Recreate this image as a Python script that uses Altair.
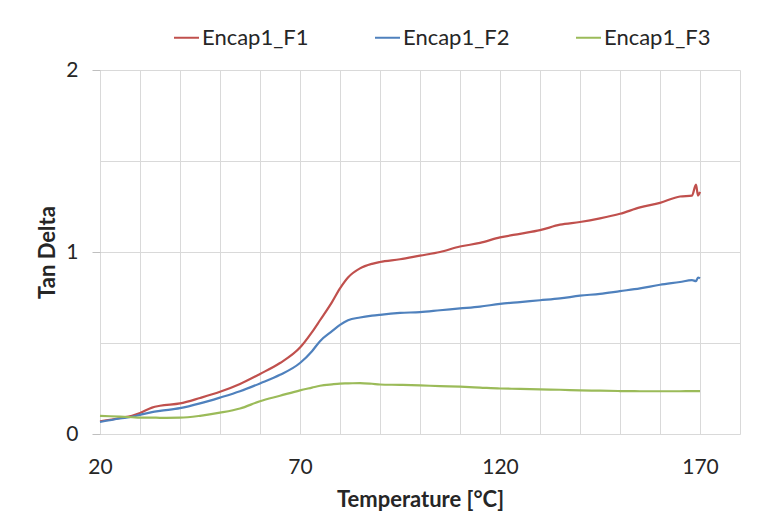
import altair as alt
import pandas as pd

# ---- data ----
temps = [20, 25, 28, 30, 33, 35, 40, 45, 50, 55, 60, 65, 70, 73, 75, 78, 80, 82, 85, 88,
         90, 95, 100, 105, 110, 115, 120, 125, 130, 135, 140, 145, 150, 155, 160, 165,
         168, 169, 169.5, 170]
f1 = [0.07, 0.088, 0.10, 0.115, 0.145, 0.155, 0.168, 0.198, 0.232, 0.275, 0.33, 0.39,
      0.475, 0.56, 0.625, 0.725, 0.80, 0.86, 0.91, 0.935, 0.945, 0.96, 0.98, 1.0, 1.03,
      1.05, 1.08, 1.10, 1.12, 1.15, 1.165, 1.185, 1.21, 1.245, 1.27, 1.305, 1.31, 1.37,
      1.31, 1.33]
f2 = [0.066, 0.085, 0.095, 0.105, 0.12, 0.127, 0.142, 0.168, 0.2, 0.235, 0.278, 0.325,
      0.39, 0.455, 0.51, 0.565, 0.60, 0.625, 0.64, 0.65, 0.655, 0.665, 0.67, 0.68, 0.69,
      0.70, 0.715, 0.725, 0.735, 0.745, 0.76, 0.77, 0.785, 0.80, 0.82, 0.835, 0.845,
      0.84, 0.86, 0.855]
f3 = [0.10, 0.095, 0.092, 0.09, 0.09, 0.089, 0.09, 0.10, 0.117, 0.14, 0.18, 0.21, 0.24,
      0.255, 0.265, 0.273, 0.277, 0.278, 0.28, 0.276, 0.272, 0.27, 0.267, 0.263, 0.26,
      0.255, 0.25, 0.248, 0.245, 0.243, 0.24, 0.238, 0.236, 0.235, 0.235, 0.235, 0.236,
      0.236, 0.236, 0.236]
series_names = ["Encap1_F1", "Encap1_F2", "Encap1_F3"]
series_colors = ["#C0504D", "#4F81BD", "#9BBB59"]
x_grid_values = list(range(20, 181, 10))
y_grid_values = [0, 0.5, 1, 1.5, 2]

rows = []
for name, vals in zip(series_names, [f1, f2, f3]):
    for t, v in zip(temps, vals):
        rows.append({"Temperature": t, "TanDelta": v, "Series": name})
df = pd.DataFrame(rows)

FONT = "Lato"
TXT = "#262626"
GRID = "#D9D9D9"

xscale = alt.Scale(domain=[20, 180], nice=False, zero=False)
yscale = alt.Scale(domain=[0, 2], nice=False)

lines = alt.Chart(df).mark_line(strokeWidth=2.2, interpolate="monotone").encode(
    x=alt.X(
        "Temperature:Q",
        scale=xscale,
        axis=alt.Axis(
            values=x_grid_values,
            labelExpr="(datum.value - 20) % 50 == 0 ? datum.label : ''",
            grid=True, gridColor=GRID, ticks=False, tickSize=0, domain=False,
            labelFlush=False, labelOverlap=False,
            labelFontSize=21, labelFont=FONT, labelColor=TXT, labelPadding=22,
            title="Temperature [°C]", titleFont=FONT, titleFontSize=22,
            titleFontWeight="bold", titleColor=TXT, titlePadding=12,
        ),
    ),
    y=alt.Y(
        "TanDelta:Q",
        scale=yscale,
        axis=alt.Axis(
            values=y_grid_values,
            labelExpr="datum.value % 1 == 0 ? format(datum.value, 'd') : ''",
            labelFlush=False, labelOverlap=False,
            grid=True, gridColor=GRID, ticks=True, tickSize=8,
            tickColor={"condition": {"test": "datum.value % 1 == 0", "value": "#BFBFBF"},
                       "value": "rgba(0,0,0,0)"},
            domain=False, labelFontSize=21, labelFont=FONT, labelColor=TXT,
            labelPadding=14, title="Tan Delta", titleFont=FONT, titleFontSize=22,
            titleFontWeight="bold", titleColor=TXT, titlePadding=6,
        ),
    ),
    color=alt.Color(
        "Series:N",
        scale=alt.Scale(domain=series_names, range=series_colors),
        legend=alt.Legend(
            title=None, orient="none", legendX=73, legendY=-46, direction="horizontal",
            symbolType="stroke", symbolSize=625, symbolStrokeWidth=2,
            labelFont=FONT, labelFontSize=22, labelColor=TXT, labelOffset=2,
            columnPadding=62, padding=0,
        ),
    ),
    order=alt.Order("Temperature:Q"),
)

chart = (
    lines
    .properties(
        width=640, height=364,
        autosize=alt.AutoSizeParams(type="none"),
        padding={"left": 92, "top": 62, "right": 25, "bottom": 82},
        background="white",
    )
    .configure_view(stroke=None)
)

chart.save("out.html", embed_options={"renderer": "svg", "actions": False})
